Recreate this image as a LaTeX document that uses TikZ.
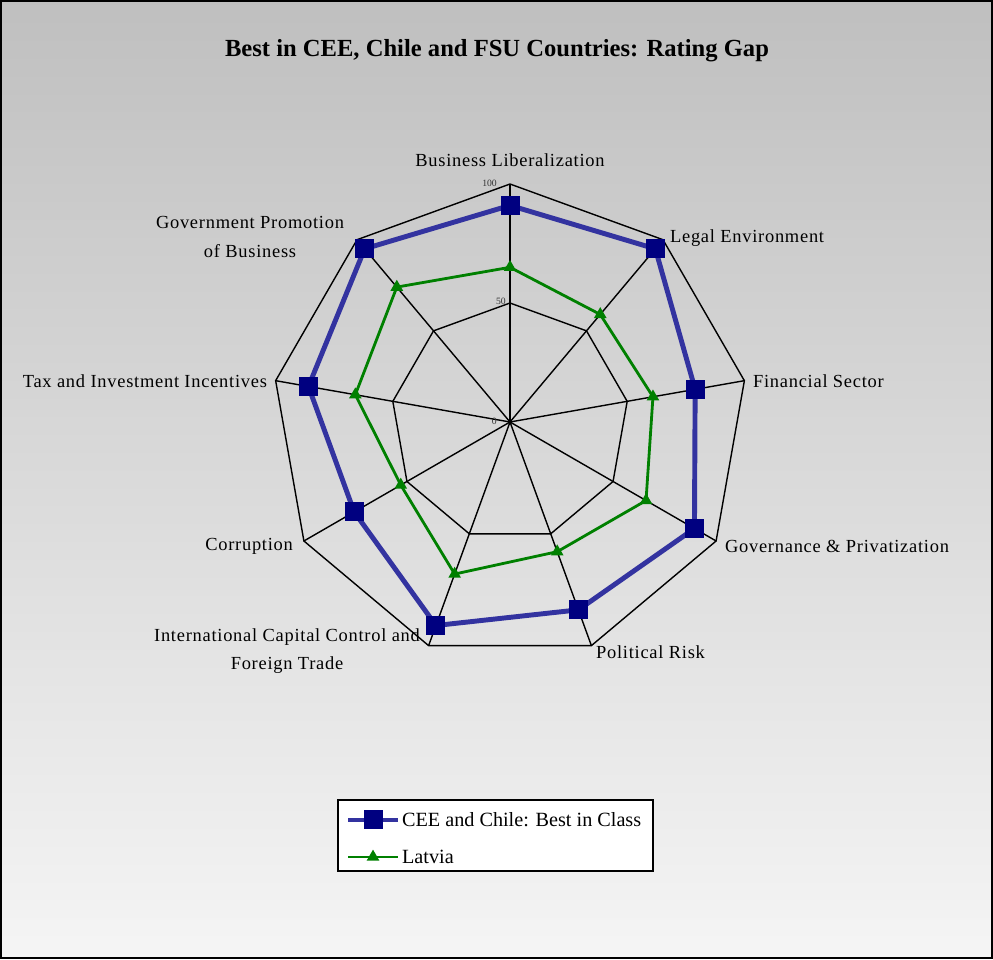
\documentclass[tikz,border=0pt]{standalone}
\usepackage{fontspec}
\setmainfont{Liberation Serif}
\usetikzlibrary{shapes.geometric}

\definecolor{bestblue}{RGB}{51,51,160}
\definecolor{marknavy}{RGB}{0,0,128}
\definecolor{latgreen}{RGB}{0,128,0}

\tikzset{
  gridline/.style={black, line width=0.8pt},
  bestline/.style={bestblue, line width=2.8pt, line join=round},
  latline/.style={latgreen, line width=1.6pt, line join=round},
  bestmark/.style={draw=none, fill=marknavy, rectangle, minimum size=0.38cm, inner sep=0pt},
  latmark/.style={draw=none, fill=latgreen, isosceles triangle, isosceles triangle apex angle=60,
    shape border rotate=90, minimum size=0.22cm, inner sep=0pt},
  axlabel/.style={font=\fontsize{10.5}{16}\selectfont\addfontfeature{LetterSpace=4}, inner sep=1pt},
  ticklabel/.style={font=\fontsize{5.5}{6}\selectfont, inner sep=0.5pt, text=black!80},
  legtext/.style={font=\fontsize{11.5}{13}\selectfont, anchor=west, inner sep=1pt},
}

\begin{document}
\begin{tikzpicture}[x=0.02cm,y=0.02cm]

        % background and frame
        \shade[top color=black!25, bottom color=black!4] (0,0) rectangle (993,959);
        \draw[black, line width=1.2pt] (1,1) rectangle (992,958);

        \node[font=\bfseries\fontsize{14}{16}\selectfont] (title) at (497,908)
          {Best in CEE, Chile and FSU Countries: Rating Gap};

        \begin{scope}[shift={(510,537)}]

          % web: rings at 50 and 100, spokes
          \foreach \r in {119, 238}{
            \draw[gridline] (90:\r) \foreach \k in {1,...,8}{ -- (90-40*\k:\r) } -- cycle;
          }
          \foreach \k in {0,...,8}{
            \draw[gridline] (0,0) -- (90-40*\k:238);
          }

          \node[ticklabel, anchor=east] (t100) at (-12,239) {100};
          \node[ticklabel, anchor=east] (t50) at (-3,121) {50};
          \node[ticklabel, anchor=east] (t0) at (-12,1) {0};

          % data points
          \foreach \v [count=\k from 0] in {91,95,79,89.5,84,91,75.6,86,95}{
            \coordinate (b\k) at (90-40*\k:2.38*\v);
          }
          \foreach \v [count=\k from 0] in {65,59,61,66,58,68,53,66,74}{
            \coordinate (g\k) at (90-40*\k:2.38*\v);
          }

          \draw[bestline] (b0) \foreach \k in {1,...,8}{ -- (b\k) } -- cycle;
          \draw[latline] (g0) \foreach \k in {1,...,8}{ -- (g\k) } -- cycle;

          \foreach \k in {0,...,8}{
            \node[bestmark] at (b\k) {};
            \node[latmark] at (g\k) {};
          }

        \end{scope}

        % axis labels
        \node[axlabel] (busi) at (510,799) {Business Liberalization};
        \node[axlabel, anchor=west] (legal) at (668,721) {Legal Environment};
        \node[axlabel, anchor=west] (fin) at (751,578) {Financial Sector};
        \node[axlabel, anchor=west] (gov) at (723,413) {Governance \& Privatization};
        \node[axlabel, anchor=west] (pol) at (594,307) {Political Risk};
        \node[axlabel, align=center] (intl) at (287,308) {International Capital Control and\\Foreign Trade};
        \node[axlabel, anchor=east] (corr) at (295,413) {Corruption};
        \node[axlabel, anchor=east] (tax) at (269,578) {Tax and Investment Incentives};
        \node[axlabel, align=center] (promo) at (250,722) {Government Promotion\\of Business};

        % legend
        \draw[black, fill=white, line width=0.8pt] (338,88) rectangle (653,159);
        \draw[bestline] (348,139) -- (398,139);
        \node[bestmark] (lb) at (373,139) {};
        \node[legtext] (lbtext) at (400,139) {CEE and Chile: Best in Class};
        \draw[latline] (348,102) -- (398,102);
        \node[latmark] (lg) at (373,102) {};
        \node[legtext] (lgtext) at (400,102) {Latvia};

      \end{tikzpicture}
\end{document}
